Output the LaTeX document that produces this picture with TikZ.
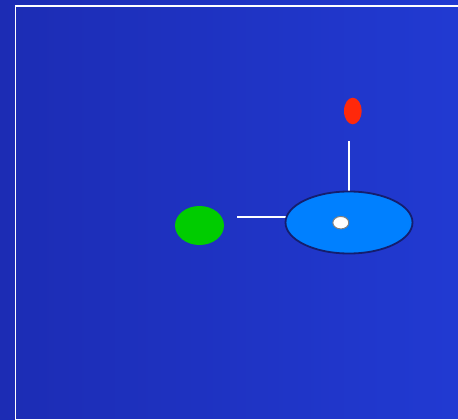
\documentclass[tikz,border=0pt]{standalone}
\usetikzlibrary{shapes.geometric,backgrounds}
\definecolor{bgL}{RGB}{28,44,180}
\definecolor{bgR}{RGB}{33,58,210}
\definecolor{ballgreen}{RGB}{0,204,0}
\definecolor{ballred}{RGB}{255,40,10}
\definecolor{diskblue}{RGB}{0,128,255}
\definecolor{diskedge}{RGB}{20,30,110}
\tikzset{
  wire/.style={draw=white, line width=1.8pt},
  frameline/.style={draw=white, line width=1.5pt},
}
\begin{document}
\begin{tikzpicture}[x=1pt,y=-1pt]
\useasboundingbox (0,0) rectangle (458,420);
\node[ellipse, draw=none, fill=ballgreen, minimum width=49pt, minimum height=39pt, inner sep=0pt] (g) at (199.5,225.5) {};
\node[ellipse, draw=none, fill=ballred, minimum width=17.6pt, minimum height=26.6pt, inner sep=0pt] (r) at (352.8,111) {};
\node[ellipse, draw=diskedge, line width=1.8pt, fill=diskblue, minimum width=127pt, minimum height=62pt, inner sep=0pt] (d) at (349,222.5) {};
\node[ellipse, draw=gray, line width=1pt, fill=white, minimum width=16pt, minimum height=12.5pt, inner sep=0pt] (h) at (340.8,222.7) {};
\coordinate (hl) at (237,217.3);
\coordinate (vt) at (349,141);
\begin{scope}[on background layer]
\shade[left color=bgL,right color=bgR] (0,0) rectangle (458,420);
\draw[frameline] (15.5,420.5) -- (15.5,6) -- (460,6);
\draw[frameline] (15.5,419.8) -- (460,419.8);
\draw[wire] (hl) -- ([xshift=4pt]d.west |- hl);
\draw[wire] (vt) -- ([yshift=-3pt]vt |- d.north);
\end{scope}
\end{tikzpicture}
\end{document}
